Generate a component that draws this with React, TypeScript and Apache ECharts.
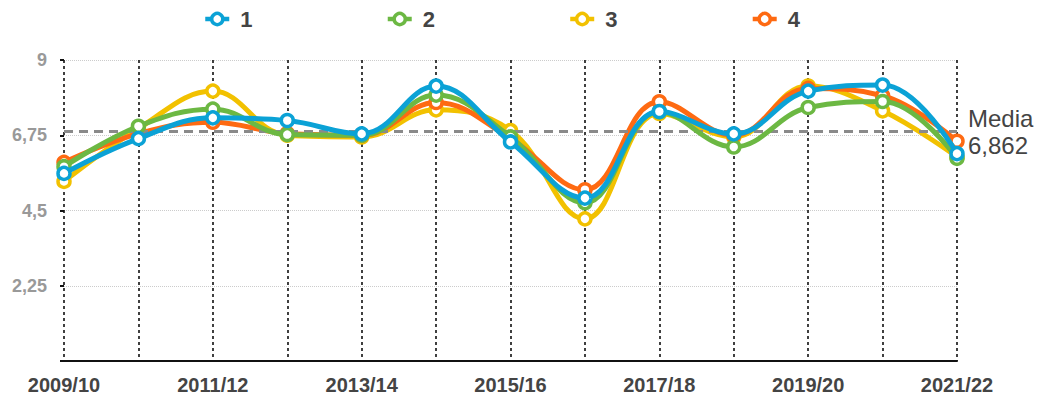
import React, { useEffect, useRef } from "react";
import * as echarts from "echarts";

const categories = ["2009/10","2010/11","2011/12","2012/13","2013/14","2014/15","2015/16","2016/17","2017/18","2018/19","2019/20","2020/21","2021/22"];
const seriesNames = ["1", "2", "3", "4"];
const values1 = [5.61, 6.65, 7.27, 7.19, 6.79, 8.22, 6.55, 4.87, 7.46, 6.79, 8.07, 8.25, 6.2];
const values2 = [5.81, 7.02, 7.53, 6.77, 6.75, 7.95, 6.7, 4.73, 7.45, 6.4, 7.58, 7.76, 6.06];
const values3 = [5.37, 6.95, 8.07, 6.75, 6.7, 7.51, 6.89, 4.25, 7.4, 6.7, 8.22, 7.48, 6.1];
const values4 = [5.94, 6.8, 7.14, 6.8, 6.75, 7.73, 6.65, 5.12, 7.75, 6.75, 8.15, 7.93, 6.57];
const mediaValue = 6.862;
const colors = ["#0ba2d6", "#6cb843", "#f2c100", "#fe6a12"];

const FONT = 'Helvetica, Arial, "Liberation Sans", sans-serif';

export default function App() {
  const ref = useRef<HTMLDivElement>(null);
  useEffect(() => {
    if (!ref.current) return;
    const chart = echarts.init(ref.current, undefined, { renderer: "svg" });
    const allValues = [values1, values2, values3, values4];
    const zs = [6, 5, 3, 4];
    const series: any[] = allValues.map((vals, i) => ({
      name: seriesNames[i],
      type: "line",
      data: vals,
      smooth: 0.4,
      z: zs[i],
      symbol: "circle",
      symbolSize: 12,
      lineStyle: { width: 5, color: colors[i] },
      itemStyle: { color: "#fff", borderColor: colors[i], borderWidth: 3.5 },
      emphasis: { disabled: true },
    }));
    series[0].markLine = {
      silent: true,
      symbol: "none",
      data: [{ yAxis: mediaValue }],
      lineStyle: { color: "#8a8a8a", type: [9, 6], width: 3 },
      label: {
        show: true,
        position: "end",
        formatter: "Media\n" + String(mediaValue).replace(".", ","),
        fontSize: 24,
        color: "#444",
        fontFamily: FONT,
        lineHeight: 27,
        distance: 11,
      },
    };
    chart.setOption({
      animation: false,
      color: colors,
      textStyle: { fontFamily: FONT },
      legend: {
        top: 0,
        left: 195,
        padding: 0,
        itemGap: 133,
        itemWidth: 24,
        itemHeight: 14,
        data: seriesNames,
        itemStyle: { borderWidth: 3.5 },
        lineStyle: { width: 4.5 },
        textStyle: {
          fontSize: 22,
          lineHeight: 18,
          fontWeight: "bold",
          color: "#444",
          fontFamily: FONT,
          padding: [0, 0, 0, 6],
        },
      },
      grid: { left: 56, right: 92, top: 52, bottom: 30, containLabel: false },
      xAxis: {
        type: "category",
        data: categories,
        boundaryGap: false,
        axisLine: { show: true, lineStyle: { color: "#111", width: 2 } },
        axisTick: { show: false },
        axisLabel: {
          interval: 1,
          fontSize: 20,
          fontWeight: "bold",
          color: "#444",
          margin: 14,
          fontFamily: FONT,
        },
        splitLine: {
          show: true,
          interval: 0,
          lineStyle: { color: "#111", type: [3, 3], width: 1.6 },
        },
      },
      yAxis: {
        type: "value",
        min: 0,
        max: 9,
        interval: 2.25,
        axisLine: { show: false },
        axisTick: { show: true, length: 4, lineStyle: { color: "#111", width: 2 } },
        axisLabel: {
          fontSize: 18,
          fontWeight: "bold",
          color: "#999",
          margin: 17,
          fontFamily: FONT,
          formatter: (v: number) => (v === 0 ? "" : String(v).replace(".", ",")),
        },
        splitLine: { show: true, lineStyle: { color: "#ccc", type: "dotted", width: 1 } },
      },
      series,
    });
    return () => chart.dispose();
  }, []);
  return <div ref={ref} style={{ width: 1041, height: 387 }} />;
}
